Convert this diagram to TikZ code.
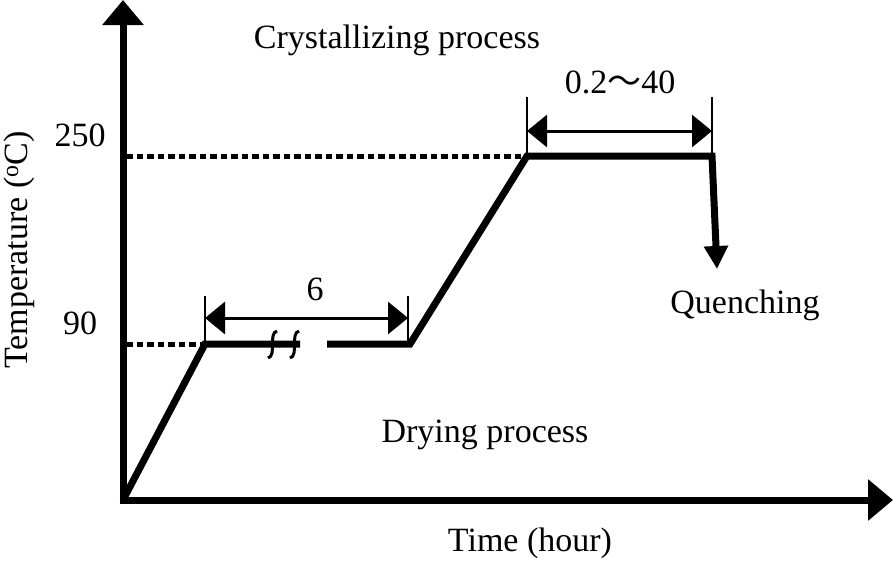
\documentclass[tikz,border=0pt]{standalone}
\usepackage{fontspec}
\setmainfont{Liberation Serif}
\newfontfamily\cjk{Noto Sans CJK JP}
\usetikzlibrary{arrows.meta}
\begin{document}
\begin{tikzpicture}[x=1pt, y=-1pt,
    lbl/.style={font=\fontsize{34}{38}\selectfont, inner sep=0pt},
    axis/.style={line width=7pt, -{Triangle[width=40pt, length=25pt]}},
    curve/.style={line width=7pt, line join=miter},
    level/.style={line width=5pt, dash pattern=on 6.5pt off 4pt},
    tick/.style={line width=2pt},
    dim/.style={line width=3pt, {Triangle[width=32pt, length=20pt]}-{Triangle[width=32pt, length=20pt]}},
    brk/.style={line width=3pt}]
  \useasboundingbox (0,0) rectangle (894,560);
  % axes
  \coordinate (o) at (123,500);
  \coordinate (ytop) at (123,0);
  \coordinate (xend) at (893,500);
  \draw[axis] (123,503.5) -- (ytop);
  \draw[axis] (119.5,500) -- (xend);
  % temperature profile
  \coordinate (d1) at (205,344); \coordinate (g1) at (300,344);
  \coordinate (g2) at (327,344); \coordinate (d2) at (410,344);
  \coordinate (c1) at (527,156); \coordinate (c2) at (712,156);
  \coordinate (q) at (717,269);
  \draw[curve] (o) -- (d1) -- (g1);
  \draw[curve, -{Triangle[width=23pt, length=23pt]}] (g2) -- (d2) -- (c1) -- (c2) -- (q);
  % break marks
  \draw[brk] (277,331) .. controls (268,333) and (277,356) .. (268,358);
  \draw[brk] (299,331) .. controls (290,333) and (299,356) .. (290,358);
  % dotted levels
  \coordinate (t90) at (126,344); \coordinate (t250) at (126,156);
  \draw[level] (t90) -- (d1);
  \draw[level] (t250) -- (c1);
  % dimensions
  \draw[tick] (205,296) -- (d1); \draw[tick] (408,296) -- (408,344);
  \draw[dim] (205,318) -- (408,318);
  \draw[tick] (527,97) -- (c1); \draw[tick] (712,97) -- (c2);
  \draw[dim] (527,131) -- (712,131);
  % labels
  \node[lbl] (dtime) at (315,289) {6};
  \node[lbl] (ctime) at (620,82) {0.2{\cjk 〜}40};
  \node[lbl] (v250) at (80,135) {250};
  \node[lbl] (v90) at (80,323) {90};
  \node[lbl, rotate=90] (ylab) at (19,250) {Temperature (\textsuperscript{o}C)};
  \node[lbl] (xlab) at (530,543) {Time (hour)};
  \node[lbl] (cryst) at (397,40) {Crystallizing process};
  \node[lbl] (dry) at (485,435) {Drying process};
  \node[lbl] (quench) at (745,305) {Quenching};
\end{tikzpicture}
\end{document}
